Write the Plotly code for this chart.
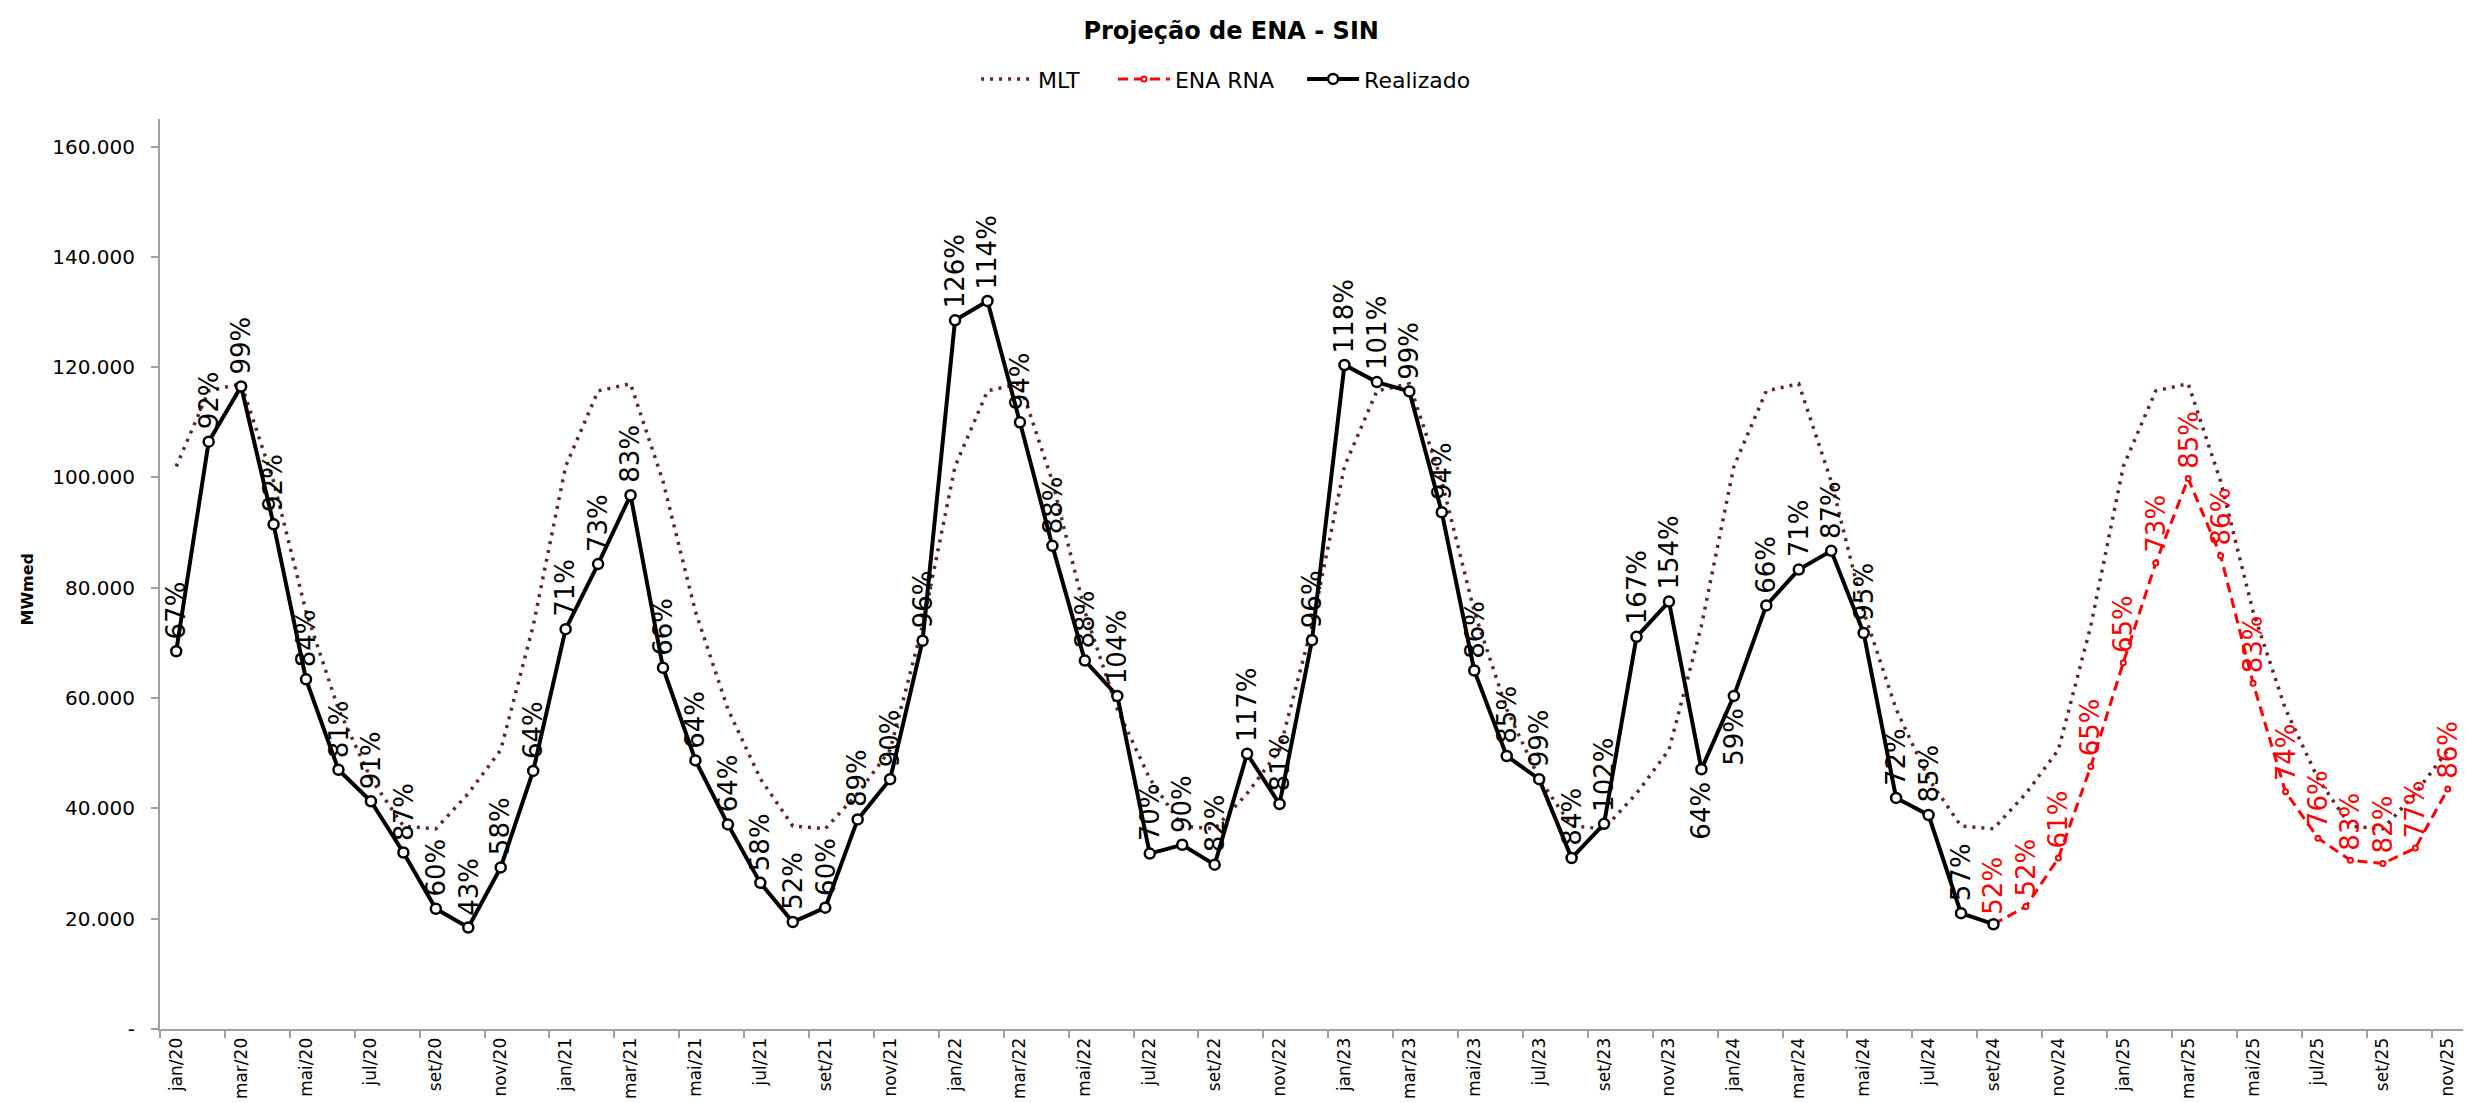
import plotly.graph_objects as go

# ---------------- data ----------------
months_pt = ["jan", "fev", "mar", "abr", "mai", "jun", "jul", "ago", "set", "out", "nov", "dez"]
years = ["20", "21", "22", "23", "24", "25"]
categories = [f"{m}/{y}" for y in years for m in months_pt][:71]  # jan/20 .. nov/25

mlt = [
    102000, 115700, 117000, 99300, 75700, 58000, 45400, 36800, 36300, 42700, 50600, 73100,  # 2020
    102000, 115700, 117000, 99300, 75700, 58000, 45400, 36800, 36300, 42700, 50600, 73100,  # 2021
    102000, 115700, 117000, 99300, 75700, 58000, 45400, 36800, 36300, 42700, 50600, 73100,  # 2022
    102000, 115700, 117000, 99300, 75700, 58000, 45400, 36800, 36300, 42700, 50600, 73100,  # 2023
    102000, 115700, 117000, 99300, 75700, 58000, 45400, 36800, 36300, 42700, 50600, 73100,  # 2024
    102000, 115700, 117000, 99300, 75700, 58000, 45400, 36800, 36300, 42700, 50600,         # 2025
]

realizado = [
    68500, 106500, 116500, 91500, 63400, 47000, 41300, 32000, 21800, 18400, 29300, 46800,   # 2020
    72500, 84300, 96800, 65500, 48700, 37100, 26500, 19400, 22000, 38000, 45300, 70400,     # 2021
    128500, 132000, 110000, 87600, 66800, 60400, 31800, 33400, 29800, 49900, 40800, 70500,  # 2022
    120400, 117300, 115600, 93700, 65000, 49500, 45300, 31000, 37200, 71100, 77500, 47100,  # 2023
    60400, 76800, 83300, 86700, 71800, 41900, 38800, 21000, 19000,                          # 2024
]
realizado_labels = [
    "67%", "92%", "99%", "92%", "84%", "81%", "91%", "87%", "60%", "43%", "58%", "64%",
    "71%", "73%", "83%", "66%", "64%", "64%", "58%", "52%", "60%", "89%", "90%", "96%",
    "126%", "114%", "94%", "88%", "88%", "104%", "70%", "90%", "82%", "117%", "81%", "96%",
    "118%", "101%", "99%", "94%", "86%", "85%", "99%", "84%", "102%", "167%", "154%", "64%",
    "59%", "66%", "71%", "87%", "95%", "72%", "85%", "57%", "",
]
# label side: "a" = above the point, "b" = below
realizado_label_side = ["a"] * 47 + ["b", "b"] + ["a"] * 8

ena_rna_start = 56  # set/24
ena_rna = [19000, 22200, 31000, 47600, 66400, 84500, 99800, 85800, 62700, 43000,
           34600, 30600, 30000, 32800, 43500]
ena_rna_labels = ["52%", "52%", "61%", "65%", "65%", "73%", "85%", "86%", "83%", "74%",
                  "76%", "83%", "82%", "77%", "86%"]

y_tickvals = [0, 20000, 40000, 60000, 80000, 100000, 120000, 140000, 160000]
y_ticktext = ["-", "20.000", "40.000", "60.000", "80.000", "100.000", "120.000", "140.000", "160.000"]

# ---------------- styles ----------------
FONT = "DejaVu Sans"
MLT_COLOR = "#632523"
RED = "#FF0000"
AXIS_COLOR = "#A0A0A0"
LABEL_SIZE = 26

fig = go.Figure()

fig.add_trace(go.Scatter(
    x=categories, y=mlt, name="MLT", mode="lines", legend="legend",
    line=dict(color=MLT_COLOR, width=3.5, dash="3px,6px"),
))
ena_x = categories[ena_rna_start:ena_rna_start + len(ena_rna)]
fig.add_trace(go.Scatter(
    x=ena_x, y=ena_rna, name="ENA RNA", mode="lines+markers", legend="legend2",
    line=dict(color=RED, width=3, dash="10px,6px"),
    marker=dict(symbol="circle", size=5, color="white", line=dict(color=RED, width=2)),
))
fig.add_trace(go.Scatter(
    x=categories[:len(realizado)], y=realizado, name="Realizado", mode="lines+markers",
    legend="legend3",
    line=dict(color="black", width=4),
    marker=dict(symbol="circle", size=10, color="white", line=dict(color="black", width=2.5)),
))

annotations = []
for i, (v, lab, side) in enumerate(zip(realizado, realizado_labels, realizado_label_side)):
    if not lab:
        continue
    above = side == "a"
    annotations.append(dict(
        x=categories[i], y=v, xref="x", yref="y", text=lab, textangle=-90,
        showarrow=False, xanchor="center", yanchor="bottom" if above else "top",
        yshift=11 if above else -11, borderpad=0,
        font=dict(family=FONT, size=LABEL_SIZE, color="black"),
    ))
for j, (v, lab) in enumerate(zip(ena_rna, ena_rna_labels)):
    annotations.append(dict(
        x=ena_x[j], y=v, xref="x", yref="y", text=lab, textangle=-90,
        showarrow=False, xanchor="center", yanchor="bottom", yshift=9, borderpad=0,
        font=dict(family=FONT, size=LABEL_SIZE, color=RED),
    ))
annotations.append(dict(
    x=-0.0577, y=0.483, xref="paper", yref="paper", text="<b>MWmed</b>", textangle=-90,
    showarrow=False, xanchor="center", yanchor="middle",
    font=dict(family=FONT, size=16, color="black"),
))

legend_common = dict(orientation="h", xanchor="left", y=1.0438, yanchor="middle",
                     font=dict(family=FONT, size=22, color="black"),
                     bgcolor="rgba(0,0,0,0)", itemwidth=52)

fig.update_layout(
    width=2471, height=1103,
    margin=dict(l=152, r=15, t=111, b=79),
    paper_bgcolor="white", plot_bgcolor="white",
    font=dict(family=FONT, color="black"),
    title=dict(text="<b>Projeção de ENA - SIN</b>", x=0.495, xanchor="center",
               y=1 - 22.5 / 1103, yanchor="middle", xref="container", yref="container",
               font=dict(family=FONT, size=24, color="black")),
    legend=dict(x=0.3542, **legend_common),
    legend2=dict(x=0.4136, **legend_common),
    legend3=dict(x=0.4957, **legend_common),
    annotations=annotations,
    showlegend=True,
)
fig.update_xaxes(
    type="category", tickmode="linear", tick0=0, dtick=2, tickson="boundaries",
    tickangle=-90, ticks="outside", ticklen=7, tickcolor=AXIS_COLOR, tickwidth=2,
    showline=True, linecolor=AXIS_COLOR, linewidth=2, showgrid=False, zeroline=False,
    tickfont=dict(family=FONT, size=17, color="black"),
    range=[-0.5, 70.5],
)
fig.update_yaxes(
    range=[0, 165000], tickmode="array", tickvals=y_tickvals, ticktext=y_ticktext,
    ticks="outside", ticklen=7, tickcolor=AXIS_COLOR, tickwidth=2,
    showline=True, linecolor=AXIS_COLOR, linewidth=2, showgrid=False, zeroline=False,
    tickfont=dict(family=FONT, size=20, color="black"), ticklabelstandoff=12,
)

fig.write_html("out.html")
